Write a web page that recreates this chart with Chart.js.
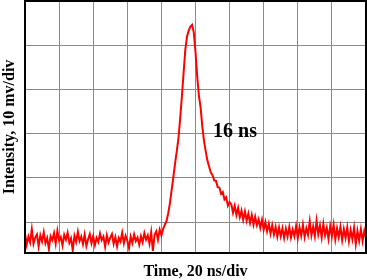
<!DOCTYPE html>
<html>
<head>
<meta charset="utf-8">
<script src="https://cdn.jsdelivr.net/npm/chart.js@4/dist/chart.umd.min.js"></script>
<style>
html,body{margin:0;padding:0;background:#fff;}
canvas{display:block;}
</style>
</head>
<body>
<canvas id="c" width="367" height="280"></canvas>
<script>
// Sample times (ns), 1 ns spacing, 0..200
const timesNs = [
0,1,2,3,4,5,6,7,8,9,10,11,12,13,14,15,16,17,18,19,
20,21,22,23,24,25,26,27,28,29,30,31,32,33,34,35,36,37,38,39,
40,41,42,43,44,45,46,47,48,49,50,51,52,53,54,55,56,57,58,59,
60,61,62,63,64,65,66,67,68,69,70,71,72,73,74,75,76,77,78,79,
80,81,82,83,84,85,86,87,88,89,90,91,92,93,94,95,96,97,98,99,
100,101,102,103,104,105,106,107,108,109,110,111,112,113,114,115,116,117,118,119,
120,121,122,123,124,125,126,127,128,129,130,131,132,133,134,135,136,137,138,139,
140,141,142,143,144,145,146,147,148,149,150,151,152,153,154,155,156,157,158,159,
160,161,162,163,164,165,166,167,168,169,170,171,172,173,174,175,176,177,178,179,
180,181,182,183,184,185,186,187,188,189,190,191,192,193,194,195,196,197,198,199,
200];

// Intensity (mV)
const intensityMv = [
-2.6,-5.1,-3.3,-4.6,-1.6,-4.9,-3.5,-2.8,-5.5,-3.0,
-4.4,-2.3,-4.8,-3.6,-6.1,-3.2,-4.1,-2.5,-4.9,-2.0,
-4.2,-3.4,-5.3,-2.9,-4.0,-2.4,-4.7,-3.7,-6.4,-3.1,
-4.5,-2.2,-4.3,-3.3,-5.0,-2.8,-5.4,-3.9,-2.7,-4.8,
-3.2,-5.2,-3.6,-4.5,-2.6,-4.1,-3.3,-5.6,-3.0,-4.6,
-3.5,-2.7,-4.9,-3.4,-5.5,-3.6,-4.4,-2.4,-4.8,-3.1,
-4.2,-5.9,-3.3,-4.7,-2.8,-4.3,-3.5,-5.1,-3.2,-4.6,
-2.5,-4.0,-3.0,-4.9,-2.3,-6.5,-2.9,-2.1,-4.0,-1.7,
-3.0,-1.6,-0.6,0.2,2.0,4.3,7.2,10.1,13.2,16.0,
18.9,23.4,28.3,33.6,38.9,41.9,43.3,44.2,44.6,42.9,
38.5,32.9,28.6,25.9,21.6,18.3,16.0,13.9,12.5,11.2,
10.6,9.4,9.3,7.9,7.8,6.4,6.8,5.1,5.6,3.7,
4.5,4.0,2.1,3.7,1.6,3.2,1.1,2.6,0.5,2.4,
0.3,1.9,-0.2,1.6,-0.6,1.2,-0.7,0.6,-1.3,0.5,
-1.7,0.0,-2.1,-0.4,-2.6,-0.7,-2.8,-1.1,-3.3,-1.2,
-3.2,-1.4,-3.6,-1.5,-3.3,-1.1,-3.5,-1.7,-3.2,-0.9,
-3.6,-1.2,-3.1,-0.6,-3.4,-1.4,-2.9,0.2,-3.0,-1.0,
-3.2,0.3,-2.8,-0.8,-3.5,-0.4,-3.0,-1.3,-3.8,-0.9,
-3.2,-0.6,-3.9,-1.4,-3.4,-1.1,-4.1,-1.6,-3.6,-1.2,
-4.3,-1.8,-3.9,-1.3,-5.0,-2.0,-4.2,-1.6,-4.3,-2.0,
-3.7];

const xTitle = "Time, 20 ns/div";
const yTitle = "Intensity, 10 mv/div";
const annotationText = "16 ns";
const annotationAt = [123.2, 19.3]; // [ns, mV]
const xRange = [0, 200, 20];
const yRange = [-7, 50, 10];

const points = timesNs.map((t, i) => ({x: t, y: intensityMv[i]}));

const framePlugin = {
  id: 'frame',
  beforeDraw(chart) {
    const ctx = chart.ctx;
    ctx.save();
    ctx.fillStyle = '#fff';
    ctx.fillRect(0, 0, chart.width, chart.height);
    ctx.restore();
  },
  afterDraw(chart) {
    const {ctx, chartArea: a, scales} = chart;
    ctx.save();
    ctx.strokeStyle = '#000';
    ctx.lineWidth = 2;
    ctx.strokeRect(a.left, a.top, a.right - a.left, a.bottom - a.top);
    ctx.fillStyle = '#000';
    ctx.font = 'bold 20px "Liberation Serif", "Times New Roman", serif';
    ctx.textAlign = 'center';
    ctx.textBaseline = 'alphabetic';
    ctx.fillText(annotationText, scales.x.getPixelForValue(annotationAt[0]), scales.y.getPixelForValue(annotationAt[1]));
    ctx.restore();
  }
};

const titleFont = {family: '"Liberation Serif", "Times New Roman", serif', size: 16, weight: 'bold'};

new Chart(document.getElementById('c'), {
  type: 'line',
  data: {
    datasets: [{
      data: points,
      borderColor: '#ff0000',
      borderWidth: 2,
      pointRadius: 0,
      tension: 0,
      fill: false
    }]
  },
  options: {
    responsive: false,
    devicePixelRatio: 1,
    animation: false,
    events: [],
    layout: {padding: {left: 0, right: 1, top: 1, bottom: 0}},
    plugins: {legend: {display: false}, tooltip: {enabled: false}},
    scales: {
      x: {
        type: 'linear',
        min: xRange[0], max: xRange[1],
        ticks: {display: false, stepSize: xRange[2]},
        grid: {color: '#8a8a8a', lineWidth: 1, drawTicks: false},
        border: {display: false},
        title: {display: true, text: xTitle, color: '#000', font: titleFont, padding: {top: 8.8, bottom: -1}}
      },
      y: {
        type: 'linear',
        min: yRange[0], max: yRange[1],
        ticks: {display: false, stepSize: yRange[2]},
        grid: {color: '#8a8a8a', lineWidth: 1, drawTicks: false},
        border: {display: false},
        title: {display: true, text: yTitle, color: '#000', font: titleFont, padding: {top: 0, bottom: 5.8}}
      }
    }
  },
  plugins: [framePlugin]
});
</script>
</body>
</html>
